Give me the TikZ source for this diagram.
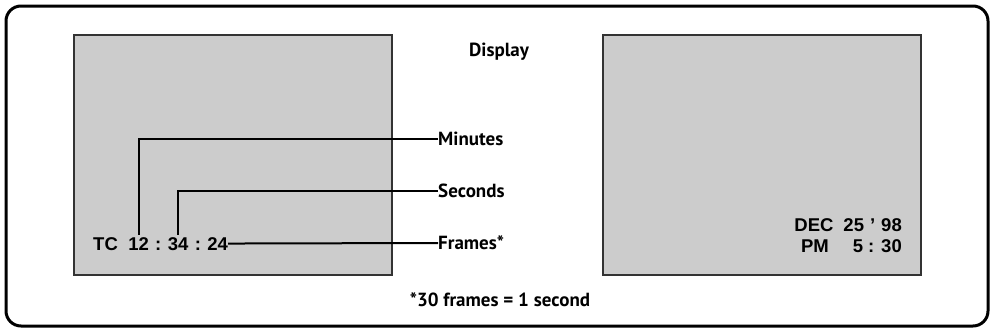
\documentclass[tikz,border=0pt]{standalone}
\usepackage{fontspec}
\setmainfont{PT Sans}
\newfontfamily\lcdfont{Liberation Sans}
\usepackage{xcolor}
\usetikzlibrary{positioning}
\definecolor{screengray}{HTML}{CCCCCC}
\definecolor{screenedge}{HTML}{333333}

\begin{document}
\begin{tikzpicture}[x=1pt, y=-1pt,
  frame/.style={draw=black, line width=3pt, rounded corners=15pt},
  screen/.style={draw=screenedge, fill=screengray, line width=1.2pt},
  lcd/.style={inner sep=0pt, font=\fontsize{18.5}{21}\lcdfont\bfseries},
  label/.style={inner sep=0pt, anchor=west, font=\fontsize{19}{22}\selectfont\bfseries},
  note/.style={inner sep=0pt, font=\fontsize{19}{22}\selectfont\bfseries},
  lead/.style={draw=black, line width=2pt}
]
\useasboundingbox (0,0) rectangle (994,332);
\draw[frame] (6,6) rectangle (988,326);
\draw[screen] (74,35) rectangle (392,275);
\draw[screen] (603,35) rectangle (921,275);

\node[note, anchor=base] (title) at (499,56) {Display};
\node[note, anchor=base] (foot) at (500,306) {*30 frames = 1 second};

\node[lcd, anchor=base west] (tclbl) at (93,250) {TC};
\node[lcd, base right=10pt of tclbl] (hh) {12};
\node[lcd, base right=6pt of hh] (c1) {:};
\node[lcd, base right=6pt of c1] (mm) {34};
\node[lcd, base right=6pt of mm] (c2) {:};
\node[lcd, base right=6pt of c2] (ss) {24};

\node[label] (min) at (438,139) {Minutes};
\node[label] (sec) at (438,191) {Seconds};
\node[label] (frm) at (438,243) {Frames*};

\draw[lead] ([yshift=2pt]hh.north) |- (min.west);
\draw[lead] ([yshift=2pt]mm.north) |- (sec.west);
\draw[lead] (ss.east) -- (frm.west);

\node[lcd, anchor=base east] (date) at (902,231) {DEC\hspace{10pt}25\hspace{6pt}’\hspace{6pt}98};
\node[lcd, anchor=base east] (clock) at (902,252) {PM\hspace{24pt}5 : 30};
\end{tikzpicture}
\end{document}
